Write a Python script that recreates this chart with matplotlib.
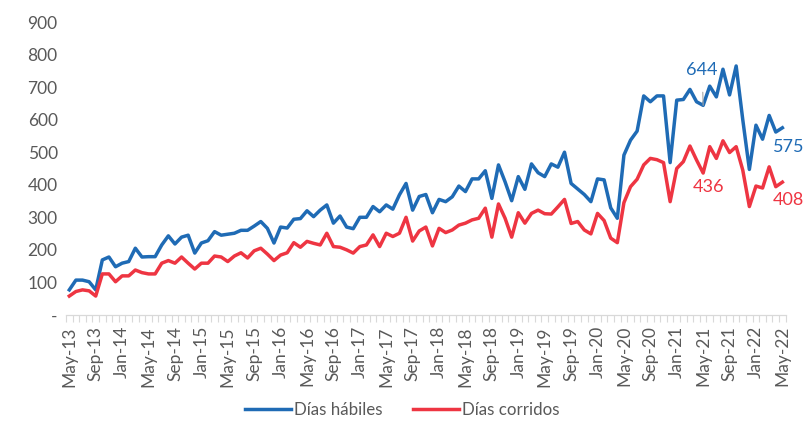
import matplotlib
matplotlib.use("Agg")
import matplotlib.pyplot as plt
import numpy as np

dias_habiles = [77, 107, 107, 102, 77, 169, 178, 148, 159, 164, 205, 178, 179, 179, 215, 243,
                218, 239, 245, 190, 221, 228, 256, 245, 248, 251, 260, 260, 273, 287, 266, 221,
                270, 267, 294, 296, 320, 302, 322, 338, 282, 304, 270, 265, 300, 300, 333, 317,
                338, 325, 369, 404, 322, 364, 370, 314, 355, 348, 363, 396, 379, 418, 418, 443,
                358, 461, 409, 351, 425, 386, 464, 437, 425, 464, 454, 500, 404, 387, 370, 348,
                418, 415, 329, 297, 491, 537, 565, 673, 655, 673, 673, 468, 660, 662, 693, 655,
                644, 703, 670, 755, 676, 765, 600, 447, 583, 540, 613, 562, 575]

dias_corridos = [58, 72, 77, 74, 58, 126, 126, 102, 120, 120, 138, 130, 126, 126, 159, 167,
                 159, 178, 159, 141, 159, 159, 181, 178, 164, 181, 191, 175, 197, 205, 187, 167,
                 184, 191, 222, 208, 226, 220, 215, 251, 210, 208, 200, 190, 210, 215, 246, 210,
                 251, 241, 251, 300, 227, 258, 270, 212, 266, 253, 261, 276, 282, 292, 297, 328,
                 239, 341, 297, 239, 314, 282, 312, 322, 311, 310, 332, 355, 281, 287, 261, 249,
                 312, 290, 236, 222, 345, 394, 417, 461, 481, 477, 468, 348, 450, 471, 519, 476,
                 436, 517, 481, 535, 499, 517, 445, 333, 396, 390, 455, 394, 408]

tick_labels = ["May-13", "Sep-13", "Jan-14", "May-14", "Sep-14", "Jan-15", "May-15",
               "Sep-15", "Jan-16", "May-16", "Sep-16", "Jan-17", "May-17", "Sep-17",
               "Jan-18", "May-18", "Sep-18", "Jan-19", "May-19", "Sep-19", "Jan-20",
               "May-20", "Sep-20", "Jan-21", "May-21", "Sep-21", "Jan-22", "May-22"]

y_ticks = [0, 100, 200, 300, 400, 500, 600, 700, 800, 900]
y_tick_labels = ["-", "100", "200", "300", "400", "500", "600", "700", "800", "900"]

BLUE = "#1F6BB5"
RED = "#EE3542"
GRAY = "#595959"

plt.rcParams["font.family"] = ["Lato", "DejaVu Sans"]

fig = plt.figure(figsize=(8.05, 4.32), dpi=100)
ax = fig.add_axes([0.082, 0.271, 0.894, 0.678])

x = np.arange(len(dias_habiles))
ax.plot(x, dias_habiles, color=BLUE, lw=2.5, solid_joinstyle="round", label="Días hábiles")
ax.plot(x, dias_corridos, color=RED, lw=2.5, solid_joinstyle="round", label="Días corridos")

ax.set_xlim(-0.5, len(x) - 0.5)
ax.set_ylim(0, 900)

ax.set_yticks(y_ticks)
ax.set_yticklabels(y_tick_labels)
ax.tick_params(axis="y", length=0, pad=6, labelsize=12.5, labelcolor=GRAY)

ax.set_xticks(np.arange(0, len(x), 4))
ax.set_xticklabels(tick_labels, rotation=90)
ax.set_xticks(np.arange(len(x) + 1) - 0.5, minor=True)
ax.tick_params(axis="x", which="major", length=0, pad=8, labelsize=12.5, labelcolor=GRAY)
ax.tick_params(axis="x", which="minor", length=5, width=0.8, color="#D9D9D9")

for s in ["left", "right", "top"]:
    ax.spines[s].set_visible(False)
ax.spines["bottom"].set_color("#D9D9D9")
ax.spines["bottom"].set_linewidth(0.9)

# data labels
i_hl = 96
i_last = len(x) - 1
ax.annotate(str(dias_habiles[i_hl]), (i_hl, dias_habiles[i_hl]), xytext=(-1, 35),
            textcoords="offset pixels", ha="center", va="center", color=BLUE, fontsize=13,
            arrowprops=dict(arrowstyle="-", color="#A6A6A6", lw=0.8, shrinkA=8, shrinkB=0))
ax.annotate(str(dias_habiles[i_last]), (i_last, dias_habiles[i_last]), xytext=(6, -19),
            textcoords="offset pixels", ha="center", va="center", color=BLUE, fontsize=13)
ax.annotate(str(dias_corridos[i_hl]), (i_hl, dias_corridos[i_hl]), xytext=(5, -14),
            textcoords="offset pixels", ha="center", va="center", color=RED, fontsize=13)
ax.annotate(str(dias_corridos[i_last]), (i_last, dias_corridos[i_last]), xytext=(6, -18),
            textcoords="offset pixels", ha="center", va="center", color=RED, fontsize=13)

leg = fig.legend(loc="center", bbox_to_anchor=(0.5, 0.052), ncol=2, frameon=False,
                 fontsize=12.2, handlelength=2.7, handletextpad=0.2, columnspacing=1.8)
for t in leg.get_texts():
    t.set_color(GRAY)

fig.savefig("out.png", dpi=100)
